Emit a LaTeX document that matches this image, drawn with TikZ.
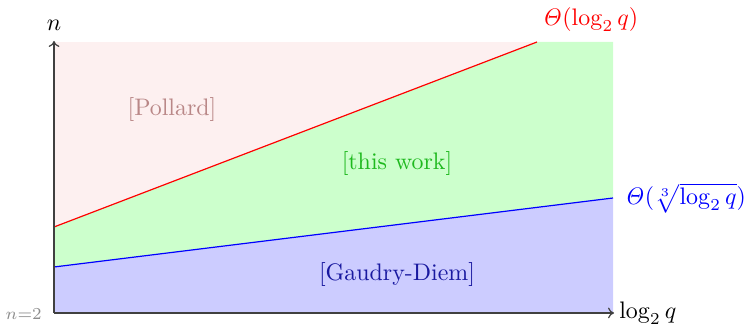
\documentclass[tikz,border=0pt]{standalone}
\usetikzlibrary{arrows.meta}
\definecolor{pollardfill}{RGB}{253,240,240}
\definecolor{workfill}{RGB}{204,255,204}
\definecolor{gdfill}{RGB}{204,204,255}
\definecolor{pollardtext}{RGB}{185,135,135}
\definecolor{worktext}{RGB}{30,185,30}
\definecolor{gdtext}{RGB}{25,25,160}
\tikzset{
  axis/.style={draw=black!75, line width=0.5pt, -{To[length=2.5pt,width=4.5pt]}},
  region/.style={text=#1},
}
\begin{document}
\begin{tikzpicture}[x=0.4184pt,y=-0.4184pt]
\useasboundingbox (0,0) rectangle (745,327);
% regions
\fill[pollardfill] (54,42) rectangle (613,313);
\fill[workfill] (54,227) -- (537,42) -- (613,42) -- (613,198) -- (54,267) -- cycle;
\fill[gdfill] (54,267) -- (613,198) -- (613,313) -- (54,313) -- cycle;
% boundary lines
\coordinate (r0) at (54,227);
\coordinate (r1) at (537,42);
\coordinate (b0) at (54,267);
\coordinate (b1) at (613,198);
\draw[red, line width=0.5pt] (r0) -- (r1);
\draw[blue, line width=0.5pt] (b0) -- (b1);
% axes
\coordinate (o) at (54,313);
\coordinate (xe) at (614,313);
\coordinate (ye) at (54,41);
\draw[axis] (o) -- (xe);
\draw[axis] (o) -- (ye);
% labels
\node[anchor=south, inner sep=4pt] (ny) at (ye) {$n$};
\node[anchor=west, inner sep=2pt] (lx) at (xe) {$\log_2 q$};
\node[anchor=east, text=black!45, font=\scriptsize, inner sep=2pt] (n2) at (47,314) {$n{=}2$};
\node[text=red] (tr) at (590,20) {$\mathit{\Theta}(\log_2 q)$};
\node[text=blue, anchor=west, inner sep=2pt] (tb) at (619,198) {$\mathit{\Theta}(\sqrt[3]{\log_2 q})$};
\node[region=pollardtext] (pol) at (172,110) {[Pollard]};
\node[region=worktext] (tw) at (397,164) {[this work]};
\node[region=gdtext] (gd) at (397,275) {[Gaudry-Diem]};
\end{tikzpicture}
\end{document}
